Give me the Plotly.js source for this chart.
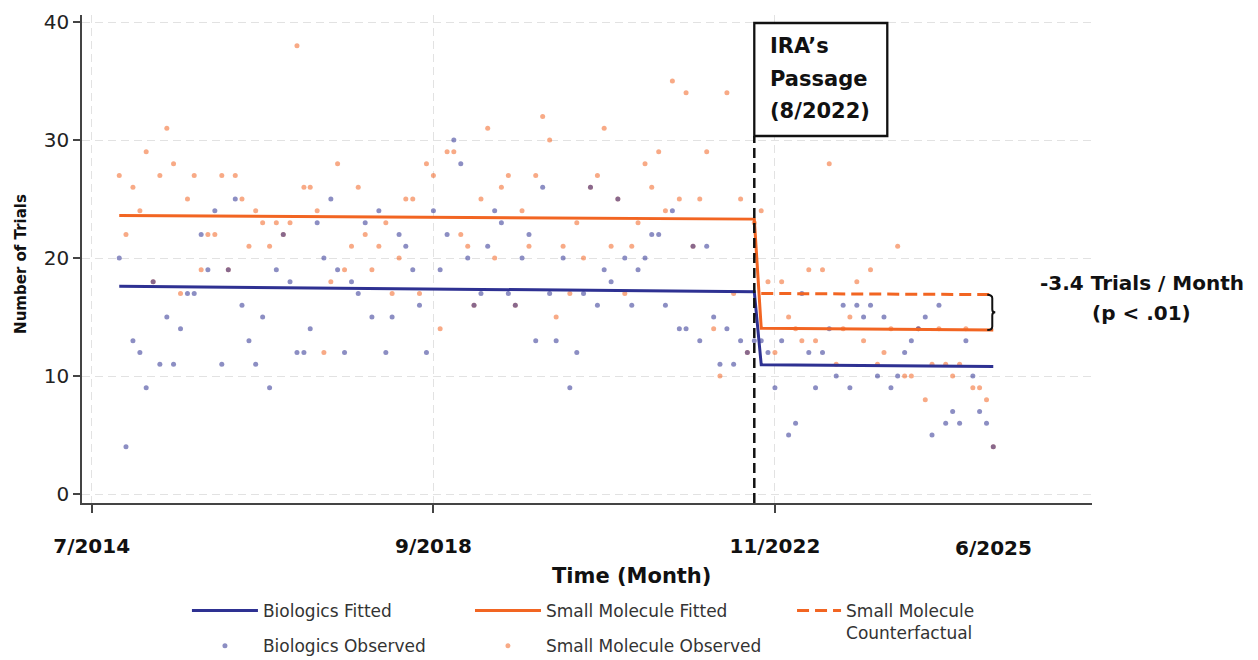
<!DOCTYPE html>
<html><head><meta charset="utf-8">
<script src="https://cdn.plot.ly/plotly-3.0.1.min.js"></script>
<style>html,body{margin:0;padding:0;background:#fff}#chart{width:1258px;height:660px}</style>
</head><body><div id="chart"></div>
<script>
const months = [
 '2014-11','2014-12',
 '2015-01','2015-02','2015-03','2015-04','2015-05','2015-06','2015-07','2015-08','2015-09','2015-10','2015-11','2015-12',
 '2016-01','2016-02','2016-03','2016-04','2016-05','2016-06','2016-07','2016-08','2016-09','2016-10','2016-11','2016-12',
 '2017-01','2017-02','2017-03','2017-04','2017-05','2017-06','2017-07','2017-08','2017-09','2017-10','2017-11','2017-12',
 '2018-01','2018-02','2018-03','2018-04','2018-05','2018-06','2018-07','2018-08','2018-09','2018-10','2018-11','2018-12',
 '2019-01','2019-02','2019-03','2019-04','2019-05','2019-06','2019-07','2019-08','2019-09','2019-10','2019-11','2019-12',
 '2020-01','2020-02','2020-03','2020-04','2020-05','2020-06','2020-07','2020-08','2020-09','2020-10','2020-11','2020-12',
 '2021-01','2021-02','2021-03','2021-04','2021-05','2021-06','2021-07','2021-08','2021-09','2021-10','2021-11','2021-12',
 '2022-01','2022-02','2022-03','2022-04','2022-05','2022-06','2022-07','2022-08','2022-09','2022-10','2022-11','2022-12',
 '2023-01','2023-02','2023-03','2023-04','2023-05','2023-06','2023-07','2023-08','2023-09','2023-10','2023-11','2023-12',
 '2024-01','2024-02','2024-03','2024-04','2024-05','2024-06','2024-07','2024-08','2024-09','2024-10','2024-11','2024-12',
 '2025-01','2025-02','2025-03','2025-04','2025-05','2025-06','2025-07'
];
const biologicsObserved = [
 20,4,13,12,9,18,11,15,11,14,17,17,22,19,24,11,19,25,16,13,
 11,15,9,19,22,18,12,12,14,23,20,25,19,12,18,17,23,15,24,12,15,22,21,19,16,
 12,24,19,22,30,28,20,16,17,21,24,23,17,16,20,22,13,26,17,13,20,9,12,17,26,
 16,19,18,25,20,16,19,20,22,22,16,24,14,14,21,13,21,15,11,14,11,13,12,13,
 13,12,9,13,5,6,17,12,9,12,14,10,16,9,16,15,16,10,15,9,10,12,13,14,15,5,16,6,7,6,13,10,7,6,4
];
const smallMoleculeObserved = [
 27,22,26,24,29,18,27,31,28,17,25,27,19,22,22,27,19,27,25,21,
 24,23,21,23,22,23,38,26,26,24,12,18,28,19,21,26,22,19,21,23,17,20,25,25,17,
 28,27,14,29,29,22,21,16,25,31,20,26,27,16,24,21,27,32,30,15,21,17,23,20,26,
 27,31,21,25,17,21,23,28,26,29,24,35,25,34,21,25,29,14,10,34,17,25,12,23,
 24,18,12,18,15,14,13,19,13,19,28,11,14,15,18,13,19,11,12,14,21,10,10,14,8,11,14,11,10,11,14,9,9,8,4
];
const fittedMonths = ['2014-11','2022-08','2022-09','2025-07'];
const biologicsFitted = [17.6, 17.15, 10.95, 10.8];
const smallMoleculeFitted = [23.6, 23.3, 14.05, 13.9];
const counterfactualMonths = ['2022-09','2025-07'];
const smallMoleculeCounterfactual = [17.0, 16.9];
const xTickVals = ['2014-07','2018-09','2022-11'];
const xTickText = ['7/2014','9/2018','11/2022'];
const endLabel = '6/2025';
const yTickVals = [0,10,20,30,40];
const iraMonth = '2022-08';
const iraLines = ['IRA’s','Passage','(8/2022)'];
const effectLines = ['-3.4 Trials / Month','(p < .01)'];

const BLUE = '#2e3192', ORANGE = '#f26522';
const FONT = 'DejaVu Sans';

const traces = [
 {x: months, y: smallMoleculeObserved, type:'scatter', mode:'markers', name:'Small Molecule Observed',
  marker:{size:5, color:'rgba(242,101,34,0.55)'}, legend:'legend2', legendgroup:'s2', legendrank:2, hoverinfo:'x+y'},
 {x: months, y: biologicsObserved, type:'scatter', mode:'markers', name:'Biologics Observed',
  marker:{size:5, color:'rgba(46,49,146,0.55)'}, legend:'legend', legendgroup:'b2', legendrank:2, hoverinfo:'x+y'},
 {x: fittedMonths, y: biologicsFitted, type:'scatter', mode:'lines', name:'Biologics Fitted',
  line:{color:BLUE, width:3}, legend:'legend', legendgroup:'b1', legendrank:1},
 {x: fittedMonths, y: smallMoleculeFitted, type:'scatter', mode:'lines', name:'Small Molecule Fitted',
  line:{color:ORANGE, width:3}, legend:'legend2', legendgroup:'s1', legendrank:1},
 {x: counterfactualMonths, y: smallMoleculeCounterfactual, type:'scatter', mode:'lines', name:'Small Molecule<br>Counterfactual',
  line:{color:ORANGE, width:3, dash:'12px,6px'}, legend:'legend3', legendgroup:'c1', legendrank:1}
];

const lastMonth = months[months.length-1];
const cfEnd = smallMoleculeCounterfactual[smallMoleculeCounterfactual.length-1];
const smEnd = smallMoleculeFitted[smallMoleculeFitted.length-1];
const mid = (cfEnd + smEnd)/2;
const bracePath = `M-6,${cfEnd} Q-1,${cfEnd} -1,${cfEnd-0.3} L-1,${mid+0.25} Q-1,${mid} 2,${mid} Q-1,${mid} -1,${mid-0.25} L-1,${smEnd+0.3} Q-1,${smEnd} -6,${smEnd}`;

const legendBase = {xref:'container', yref:'container', xanchor:'left', yanchor:'top', orientation:'v', bgcolor:'rgba(0,0,0,0)',
  font:{family:FONT, size:17, color:'#333'}, tracegroupgap:10, itemclick:false, itemdoubleclick:false};

const boldFont = (s) => ({family:FONT, size:s, color:'#111', weight:'bold'});

const annotations = [
 {xref:'paper', yref:'paper', x:-0.0604, y:0.49, text:'Number of Trials', textangle:-90, showarrow:false,
  font:boldFont(15), xanchor:'center', yanchor:'middle'},
 {xref:'paper', yref:'paper', x:0.5436, y:-0.1496, text:'Time (Month)', showarrow:false,
  font:boldFont(21), xanchor:'center', yanchor:'middle'},
 {xref:'x', yref:'paper', x:lastMonth, y:-0.092, text:endLabel, showarrow:false,
  font:boldFont(20), xanchor:'center', yanchor:'middle'},
 {xref:'paper', yref:'paper', x:1.0495, y:0.4508, text:effectLines[0], showarrow:false,
  font:boldFont(20), xanchor:'center', yanchor:'middle'},
 {xref:'paper', yref:'paper', x:1.0495, y:0.3893, text:effectLines[1], showarrow:false,
  font:boldFont(20), xanchor:'center', yanchor:'middle'}
];
const iraY = [0.9365, 0.8689, 0.8033];
iraLines.forEach((t,k) => annotations.push({xref:'x', yref:'paper', x:iraMonth, xshift:14, y:iraY[k],
  text:t, showarrow:false, font:boldFont(21), xanchor:'left', yanchor:'middle'}));

const layout = {
 width:1258, height:660,
 margin:{l:82, r:166, t:15, b:157, autoexpand:false},
 paper_bgcolor:'#fff', plot_bgcolor:'#fff',
 font:{family:FONT, color:'#222'},
 showlegend:true,
 hovermode:'closest',
 xaxis:{type:'date', range:['2014-05-19','2026-09-14'], tickmode:'array', tickvals:xTickVals, ticktext:xTickText,
  ticks:'outside', ticklen:8, tickwidth:1.5, tickcolor:'#444', showline:true, linecolor:'#444', linewidth:1.5,
  showgrid:true, gridcolor:'#e2e2e2', griddash:'8px,5px', gridwidth:1, zeroline:false, automargin:false,
  tickfont:{family:FONT, size:20, color:'#111', weight:'bold'}, ticklabelstandoff:16, fixedrange:true},
 yaxis:{range:[-0.76,40.6], tickmode:'array', tickvals:yTickVals, ticks:'outside', ticklen:7, tickwidth:1.5, tickcolor:'#444',
  showline:true, linecolor:'#444', linewidth:1.5, showgrid:true, gridcolor:'#e2e2e2', griddash:'8px,5px', gridwidth:1,
  zeroline:false, automargin:false, tickfont:{family:FONT, size:20, color:'#222'}, fixedrange:true},
 legend:Object.assign({}, legendBase, {x:0.1486, y:0.1015, itemwidth:66}),
 legend2:Object.assign({}, legendBase, {x:0.3736, y:0.1015, itemwidth:66}),
 legend3:Object.assign({}, legendBase, {x:0.6296, y:0.1015, itemwidth:44, valign:'top'}),
 shapes:[
  {type:'line', xref:'x', yref:'paper', x0:iraMonth, x1:iraMonth, y0:0, y1:0.752, layer:'above',
   line:{color:'#111', width:2.5, dash:'10px,5px'}},
  {type:'rect', xref:'x', yref:'paper', xsizemode:'pixel', xanchor:iraMonth, x0:0, x1:133, y0:0.752, y1:0.9836,
   layer:'above', fillcolor:'#fff', line:{color:'#111', width:2.3}},
  {type:'path', xref:'x', yref:'y', xsizemode:'pixel', xanchor:lastMonth, path:bracePath, layer:'above',
   line:{color:'#111', width:2}}
 ],
 annotations:annotations
};

Plotly.newPlot('chart', traces, layout, {displayModeBar:false, responsive:false, staticPlot:false});
</script>
</body></html>
